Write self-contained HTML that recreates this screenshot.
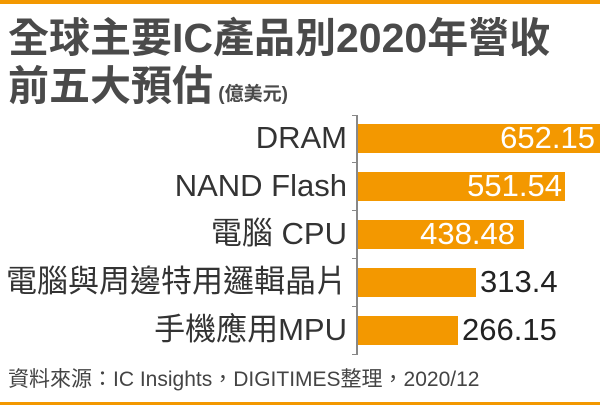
<!DOCTYPE html>
<html><head><meta charset="utf-8"><style>
body{margin:0;width:600px;height:405px;background:#fff;overflow:hidden;position:relative;font-family:"Liberation Sans","Noto Sans CJK TC",sans-serif;color:#333}
.a{position:absolute;white-space:nowrap}
.lab{right:253px;font-size:31px;color:#333;line-height:30px}
.bar{position:absolute;left:358px;height:29px;background:#f39800}
.v{font-size:31px;line-height:30px}
</style></head><body>
<div class="a" style="left:0;top:0;width:600px;height:4px;background:#f39800"></div>
<div class="a" style="left:0;top:402px;width:600px;height:3px;background:#f39800"></div>
<div class="a" style="left:8px;top:14px;font-size:41px;color:#4a4a4a;line-height:48px;letter-spacing:0px;font-weight:bold">全球主要IC產品別2020年營收</div>
<div class="a" style="left:8px;top:62px;font-size:41px;color:#4a4a4a;line-height:48px;font-weight:bold">前五大預估<span style="font-size:19px"> (億美元)</span></div>
<div class="a" style="left:356px;top:115px;width:2px;height:240px;background:#888"></div>
<div class="a" style="left:352px;top:115px;width:5px;height:1px;background:#888"></div>
<div class="a" style="left:352px;top:162px;width:5px;height:1px;background:#888"></div>
<div class="a" style="left:352px;top:210px;width:5px;height:1px;background:#888"></div>
<div class="a" style="left:352px;top:258px;width:5px;height:1px;background:#888"></div>
<div class="a" style="left:352px;top:306px;width:5px;height:1px;background:#888"></div>
<div class="a" style="left:352px;top:354px;width:5px;height:1px;background:#888"></div>
<div class="bar" style="top:124px;width:242px"></div>
<div class="bar" style="top:172px;width:207px"></div>
<div class="bar" style="top:220px;width:166px"></div>
<div class="bar" style="top:268px;width:118px"></div>
<div class="bar" style="top:316px;width:100px"></div>
<div class="a lab" style="top:123px">DRAM</div>
<div class="a lab" style="top:171px">NAND Flash</div>
<div class="a lab" style="top:219px">電腦 CPU</div>
<div class="a lab" style="top:267px">電腦與周邊特用邏輯晶片</div>
<div class="a lab" style="top:315px">手機應用MPU</div>
<div class="a v" style="right:5px;top:123px;color:#fff">652.15</div>
<div class="a v" style="right:38px;top:171px;color:#fff">551.54</div>
<div class="a v" style="right:85px;top:219px;color:#fff">438.48</div>
<div class="a v" style="left:480px;top:267px;color:#222">313.4</div>
<div class="a v" style="left:462px;top:315px;color:#222">266.15</div>
<div class="a" style="left:8px;top:367px;font-size:21px;color:#444;line-height:26px">資料來源：IC Insights，DIGITIMES整理，2020/12</div>
</body></html>
